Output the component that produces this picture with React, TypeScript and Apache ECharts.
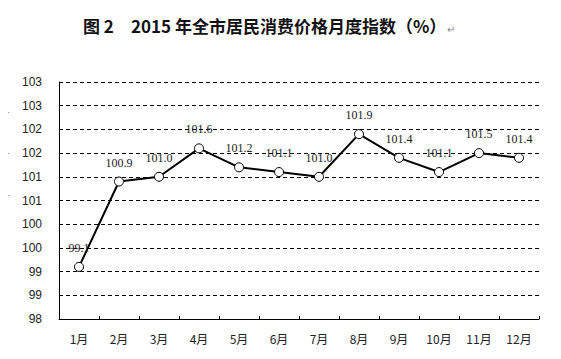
import React, { useEffect, useRef } from "react";
import * as echarts from "echarts";

const months = ["1月", "2月", "3月", "4月", "5月", "6月", "7月", "8月", "9月", "10月", "11月", "12月"];
const cpiValues = [99.1, 100.9, 101.0, 101.6, 101.2, 101.1, 101.0, 101.9, 101.4, 101.1, 101.5, 101.4];
const titlePrefix = "图 2";
const titleText = "2015 年全市居民消费价格月度指数（%）";
const marginMarks = ["+", "+", "+"];

export default function App() {
  const ref = useRef<HTMLDivElement>(null);
  useEffect(() => {
    if (!ref.current) return;
    const chart = echarts.init(ref.current, null, { renderer: "svg" });
    chart.setOption({
      animation: false,
      backgroundColor: "#ffffff",
      grid: { left: 59, right: 22, top: 82, bottom: 40 },
      graphic: [
        {
          type: "text",
          x: 83,
          y: 25,
          style: {
            text: titlePrefix,
            font: "bold 17px 'Noto Sans CJK SC'",
            fill: "#111",
            textAlign: "left",
            textVerticalAlign: "middle",
          },
        },
        {
          type: "text",
          x: 131,
          y: 25,
          style: {
            text: titleText,
            font: "bold 17px 'Noto Sans CJK SC'",
            fill: "#111",
            textAlign: "left",
            textVerticalAlign: "middle",
          },
        },
        {
          type: "text",
          x: 447,
          y: 28,
          style: { text: "↵", font: "10px 'Noto Sans CJK SC'", fill: "#888", textVerticalAlign: "middle" },
        },
      ],
      xAxis: {
        type: "category",
        data: months,
        boundaryGap: true,
        axisLine: { lineStyle: { color: "#000", width: 1 } },
        axisTick: { show: true, inside: true, length: 3, lineStyle: { color: "#000" } },
        axisLabel: { color: "#222", fontSize: 12, margin: 13, fontFamily: "'Noto Sans CJK SC'" },
        splitLine: { show: false },
      },
      yAxis: {
        type: "value",
        min: 98,
        max: 103,
        interval: 0.5,
        axisLine: { show: true, lineStyle: { color: "#000", width: 1 } },
        axisTick: { show: false },
        axisLabel: {
          color: "#222",
          fontSize: 12,
          margin: 17,
          fontFamily: "'Liberation Sans'",
          formatter: (v: number) => String(Math.round(v + 1e-9)),
        },
        splitLine: { show: true, lineStyle: { color: "#000", type: [4, 3], width: 1 } },
      },
      series: [
        {
          type: "line",
          data: cpiValues,
          lineStyle: { color: "#000", width: 2 },
          symbol: "circle",
          symbolSize: 9,
          itemStyle: { color: "#fff", borderColor: "#000", borderWidth: 1 },
          label: {
            show: true,
            position: "top",
            distance: 8,
            color: "#222",
            fontSize: 12,
            fontFamily: "'Liberation Serif'",
            formatter: (p: any) => p.value.toFixed(1),
          },
        },
      ],
    });
    return () => chart.dispose();
  }, []);
  const markYs = [112, 153, 195];
  return (
    <div style={{ position: "relative", width: 561, height: 359, margin: -8 }}>
      <div ref={ref} style={{ width: 561, height: 359 }} />
      {marginMarks.map((m, i) => (
        <span
          key={i}
          style={{
            position: "absolute",
            left: 3,
            top: markYs[i] - 7,
            fontSize: 11,
            lineHeight: "14px",
            fontFamily: "'Liberation Sans'",
            color: "#888",
            zIndex: 10,
          }}
        >
          {m}
        </span>
      ))}
    </div>
  );
}
